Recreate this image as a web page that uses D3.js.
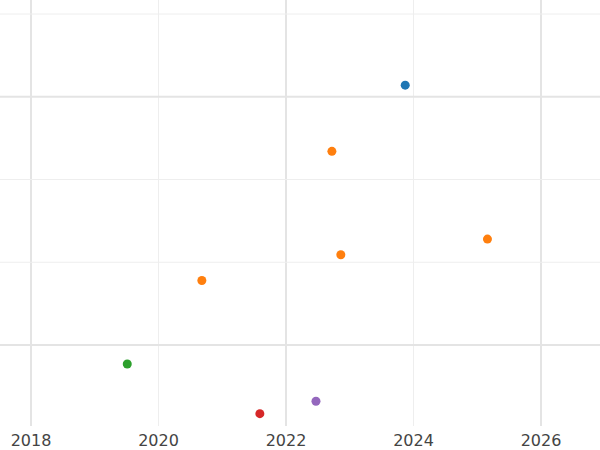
<!DOCTYPE html>
<html>
<head>
<meta charset="utf-8">
<script src="https://cdn.jsdelivr.net/npm/d3@7"></script>
<style>
  body { margin: 0; background: #fff; }
  svg { font-family: "DejaVu Sans", "Noto Sans", sans-serif; }
</style>
</head>
<body>
<div id="chart"></div>
<script>
const years = [2023.87, 2022.72, 2025.16, 2022.86, 2020.68, 2019.51, 2022.47, 2021.59];
const values = [4.14, 3.34, 2.28, 2.09, 1.78, 0.77, 0.32, 0.17];
const colors = ["#1f77b4", "#ff7f0e", "#ff7f0e", "#ff7f0e", "#ff7f0e", "#2ca02c", "#9467bd", "#d62728"];
const xTicks = [2018, 2020, 2022, 2024, 2026];

const width = 600, height = 450;
const svg = d3.select("#chart").append("svg")
  .attr("width", width).attr("height", height);

const x = d3.scaleLinear().domain([2018, 2026]).range([31, 541]);
const y = d3.scaleLinear().domain([0, 5]).range([427.75, 14]);

const grid = svg.append("g");
grid.selectAll("line.v").data(xTicks).join("line")
  .attr("x1", d => x(d)).attr("x2", d => x(d))
  .attr("y1", 0).attr("y2", 426)
  .attr("stroke", (d, i) => i % 2 ? "#eeeeee" : "#e4e4e4")
  .attr("stroke-width", (d, i) => i % 2 ? 1 : 2);
grid.selectAll("line.h").data([1, 2, 3, 4, 5]).join("line")
  .attr("x1", 0).attr("x2", width)
  .attr("y1", d => y(d)).attr("y2", d => y(d))
  .attr("stroke", d => d % 3 === 1 ? "#e4e4e4" : "#eeeeee")
  .attr("stroke-width", d => d % 3 === 1 ? 2 : 1);

svg.append("g").selectAll("text").data(xTicks).join("text")
  .attr("x", d => x(d)).attr("y", 446)
  .attr("text-anchor", "middle")
  .attr("font-size", 16).attr("fill", "#444")
  .text(d => d);

svg.append("g").selectAll("circle").data(years).join("circle")
  .attr("cx", d => x(d))
  .attr("cy", (d, i) => y(values[i]))
  .attr("r", 4.5)
  .attr("fill", (d, i) => colors[i]);
</script>
</body>
</html>
